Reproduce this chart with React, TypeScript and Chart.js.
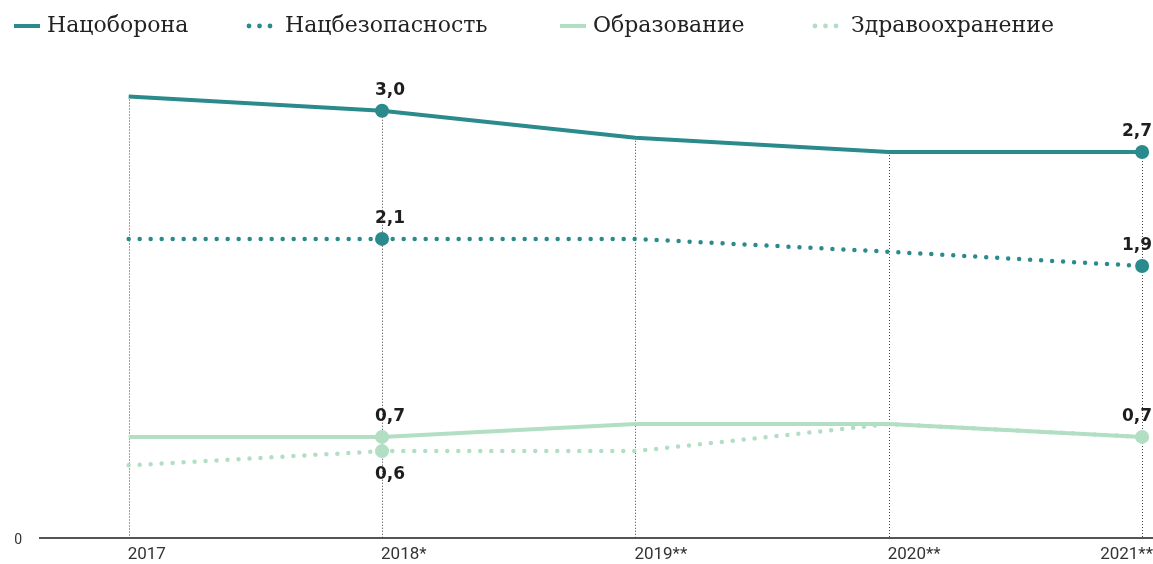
import React, { useEffect, useRef } from "react";
import { Chart, registerables } from "chart.js";

Chart.register(...registerables);

const categories = ["2017", "2018*", "2019**", "2020**", "2021**"];
const seriesNames = ["Нацоборона", "Нацбезопасность", "Образование", "Здравоохранение"];
const defense = [3.1, 3.0, 2.81, 2.71, 2.71];
const security = [2.1, 2.1, 2.1, 2.01, 1.91];
const education = [0.71, 0.71, 0.8, 0.8, 0.71];
const health = [0.51, 0.61, 0.61, 0.8, 0.71];
const yTicks = [0];
const labeledPoints = [[1, 4], [1, 4], [1, 4], [1]];
const labelBelow = [false, false, false, true];

const TEAL = "#2b8a8c";
const MINT = "#b2dfc3";
const colors = [TEAL, TEAL, MINT, MINT];
const dotted = [false, true, false, true];
const legendX = [14, 246, 560, 812];

const allSeries = [defense, security, education, health];

const fmt = (v: number) => v.toFixed(1).replace(".", ",");

const guidePlugin = {
  id: "guides",
  beforeDatasetsDraw(chart: any) {
    const { ctx, scales } = chart;
    const xs = scales.x;
    const ys = scales.y;
    ctx.save();
    ctx.strokeStyle = "#444";
    ctx.lineWidth = 1;
    ctx.setLineDash([1, 2]);
    categories.forEach((_, i) => {
      const top = Math.max(...allSeries.map((s) => s[i]));
      const x = Math.round(xs.getPixelForValue(i)) + 0.5;
      ctx.beginPath();
      ctx.moveTo(x, ys.getPixelForValue(top));
      ctx.lineTo(x, ys.getPixelForValue(0));
      ctx.stroke();
    });
    ctx.restore();
  },
  afterDatasetsDraw(chart: any) {
    const { ctx, scales } = chart;
    const xs = scales.x;
    const ys = scales.y;
    ctx.save();
    ctx.fillStyle = "#1e1e1e";
    ctx.font = 'bold 17px "DejaVu Sans"';
    ctx.textAlign = "left";
    ctx.textBaseline = "middle";
    allSeries.forEach((s, di) => {
      labeledPoints[di].forEach((i) => {
        const text = fmt(s[i]);
        const w = ctx.measureText(text).width;
        const px = xs.getPixelForValue(i);
        const x = Math.min(px - 7, chart.width - w - 1);
        const y = ys.getPixelForValue(s[i]);
        ctx.fillText(text, x, labelBelow[di] ? y + 23 : y - 20);
      });
    });
    ctx.restore();
  },
  afterDraw(chart: any) {
    const { ctx, scales, chartArea } = chart;
    ctx.save();
    // x category labels
    ctx.font = "17px Roboto";
    ctx.fillStyle = "#333";
    ctx.textAlign = "left";
    ctx.textBaseline = "middle";
    categories.forEach((c, i) => {
      const w = ctx.measureText(c).width;
      const x = Math.min(scales.x.getPixelForValue(i) - 1, chart.width - w);
      ctx.fillText(c, x, chartArea.bottom + 17);
    });
    // y labels
    ctx.font = "14px Roboto";
    ctx.textAlign = "right";
    yTicks.forEach((v) => {
      ctx.fillText(String(v), chartArea.left - 18, scales.y.getPixelForValue(v) + 2);
    });
    // legend
    ctx.font = '22px "DejaVu Serif"';
    ctx.textBaseline = "middle";
    ctx.textAlign = "left";
    seriesNames.forEach((name, i) => {
      const x0 = legendX[i];
      const y = 26;
      ctx.fillStyle = colors[i];
      ctx.strokeStyle = colors[i];
      let tx = x0 + 33;
      if (dotted[i]) {
        for (let k = 0; k < 3; k++) {
          ctx.beginPath();
          ctx.arc(x0 + 3 + k * 10.5, y, 2.4, 0, Math.PI * 2);
          ctx.fill();
        }
        tx = x0 + 39;
      } else {
        ctx.lineWidth = 4;
        ctx.beginPath();
        ctx.moveTo(x0, y);
        ctx.lineTo(x0 + 26, y);
        ctx.stroke();
      }
      ctx.fillStyle = "#222";
      ctx.fillText(name, tx, y);
    });
    ctx.restore();
  },
};

export default function App() {
  const ref = useRef<HTMLCanvasElement | null>(null);
  useEffect(() => {
    document.body.style.margin = "0";
    if (!ref.current) return;
    const chart = new Chart(ref.current, {
      type: "line",
      data: {
        datasets: allSeries.map((s, di) => ({
          label: seriesNames[di],
          data: s.map((v, i) => ({ x: i, y: v })),
          borderColor: colors[di],
          backgroundColor: colors[di],
          borderWidth: dotted[di] ? 4.5 : 4,
          borderDash: dotted[di] ? [0, 11] : [],
          borderCapStyle: dotted[di] ? "round" : "butt",
          tension: 0,
          fill: false,
          clip: false,
          pointRadius: s.map((_, i) => (labeledPoints[di].includes(i) ? 7 : 0)),
          pointHoverRadius: 0,
          pointBorderWidth: 0,
          pointBackgroundColor: colors[di],
        })),
      },
      options: {
        animation: false,
        responsive: true,
        maintainAspectRatio: false,
        events: [],
        layout: { autoPadding: false, padding: { top: 68, left: 0, right: 0, bottom: 0 } },
        plugins: {
          legend: { display: false },
          tooltip: { enabled: false },
        },
        scales: {
          x: {
            type: "linear",
            min: -0.35,
            max: 4.043,
            grid: { display: false, drawTicks: false },
            border: { display: true, color: "#555", width: 2 },
            afterBuildTicks: (s: any) => {
              s.ticks = categories.map((_, i) => ({ value: i }));
            },
            afterFit: (s: any) => {
              s.height = 26;
              s.paddingLeft = 0;
              s.paddingRight = 0;
            },
            ticks: { display: false },
          },
          y: {
            min: 0,
            max: 3.3,
            grid: { display: false, drawTicks: false },
            border: { display: false },
            afterBuildTicks: (s: any) => {
              s.ticks = yTicks.map((v) => ({ value: v }));
            },
            afterFit: (s: any) => {
              s.width = 40;
              s.paddingTop = 0;
              s.paddingBottom = 0;
            },
            ticks: { display: false },
          },
        },
      },
      plugins: [guidePlugin],
    } as any);
    return () => chart.destroy();
  }, []);
  return (
    <div style={{ width: 1153, height: 564, position: "relative" }}>
      <canvas ref={ref} />
    </div>
  );
}
